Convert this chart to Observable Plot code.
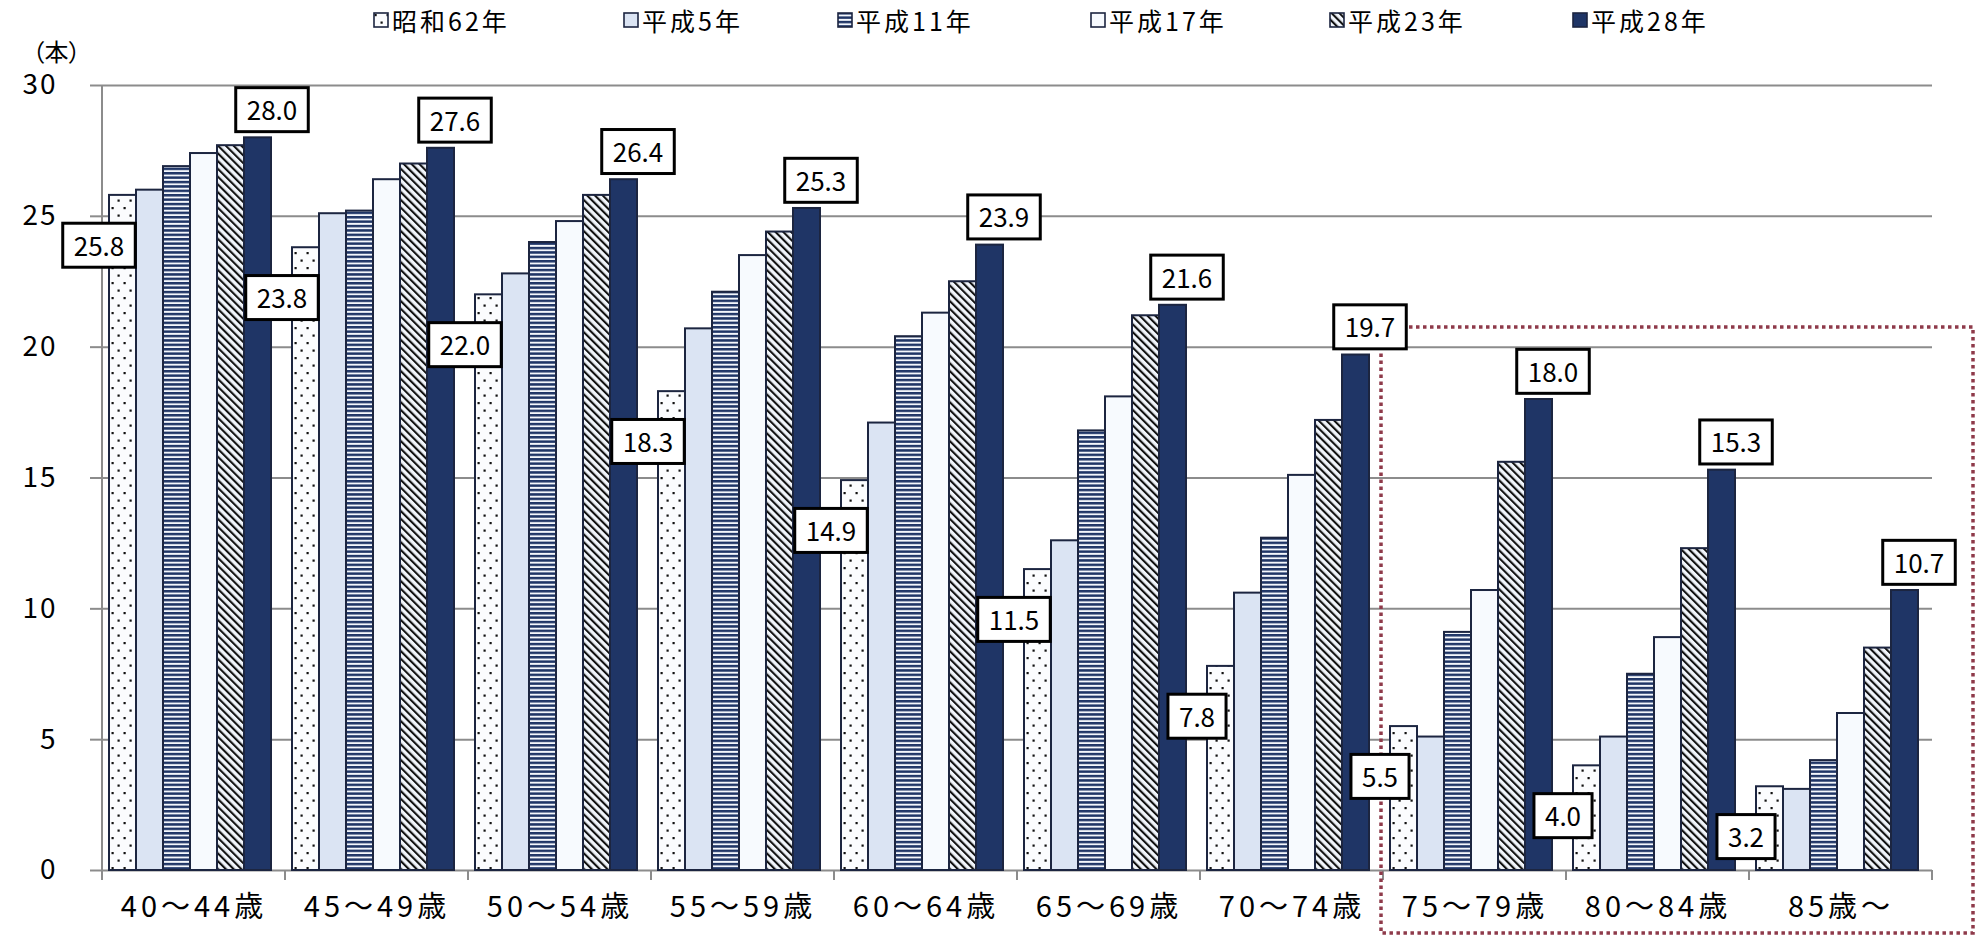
<!DOCTYPE html>
<html>
<head>
<meta charset="utf-8">
<script src="https://cdn.jsdelivr.net/npm/d3@7"></script>
<script src="https://cdn.jsdelivr.net/npm/@observablehq/plot@0.6"></script>
<style>
  body { margin: 0; background: #fff; font-family: "Noto Sans CJK JP", sans-serif; }
  #legend { position: relative; width: 1979px; height: 40px; }
  .item { position: absolute; top: 0; height: 40px; display: flex; align-items: center;
          font-size: 25px; letter-spacing: 3px; color: #000; white-space: nowrap; }
  .item svg { margin-right: 3px; }
  g[aria-label="fx-axis tick label"] text { letter-spacing: 4px; }
  g[aria-label="y-axis tick label"] text { letter-spacing: 2px; }
  g[aria-label="y-axis label"] text { font-size: 24px; font-feature-settings: "palt"; }
</style>
</head>
<body>
<svg width="0" height="0" style="position:absolute">
  <defs>
    <pattern id="p-s62" patternUnits="userSpaceOnUse" width="12" height="15">
      <rect width="12" height="15" fill="#fbfcfe"/>
      <rect x="1.5" y="2" width="2.2" height="2.2" fill="#111"/>
      <rect x="7.5" y="9.5" width="2.2" height="2.2" fill="#111"/>
    </pattern>
    <pattern id="p-h5" patternUnits="userSpaceOnUse" width="10" height="10">
      <rect width="10" height="10" fill="#dbe4f3"/>
    </pattern>
    <pattern id="p-h11" patternUnits="userSpaceOnUse" width="10" height="4.4">
      <rect width="10" height="4.4" fill="#f4f7fc"/>
      <rect width="10" height="2.5" fill="#1f3566"/>
    </pattern>
    <pattern id="p-h17" patternUnits="userSpaceOnUse" width="10" height="10">
      <rect width="10" height="10" fill="#f7fafe"/>
    </pattern>
    <pattern id="p-h23" patternUnits="userSpaceOnUse" width="5.5" height="5.5" patternTransform="rotate(-45)">
      <rect width="5.5" height="5.5" fill="#f1f5fb"/>
      <rect width="2.1" height="5.5" fill="#111"/>
    </pattern>
    <pattern id="p-h28" patternUnits="userSpaceOnUse" width="10" height="10">
      <rect width="10" height="10" fill="#1f3566"/>
    </pattern>
  </defs>
</svg>
<div id="legend"></div>
<div id="chart"></div>
<script>
// ---- data ----
const groups = ["40～44歳", "45～49歳", "50～54歳", "55～59歳", "60～64歳", "65～69歳", "70～74歳", "75～79歳", "80～84歳", "85歳～"];
const seriesNames = ["昭和62年", "平成5年", "平成11年", "平成17年", "平成23年", "平成28年"];
const s62 = [25.8, 23.8, 22.0, 18.3, 14.9, 11.5, 7.8, 5.5, 4.0, 3.2];
const h5  = [26.0, 25.1, 22.8, 20.7, 17.1, 12.6, 10.6, 5.1, 5.1, 3.1];
const h11 = [26.9, 25.2, 24.0, 22.1, 20.4, 16.8, 12.7, 9.1, 7.5, 4.2];
const h17 = [27.4, 26.4, 24.8, 23.5, 21.3, 18.1, 15.1, 10.7, 8.9, 6.0];
const h23 = [27.7, 27.0, 25.8, 24.4, 22.5, 21.2, 17.2, 15.6, 12.3, 8.5];
const h28 = [28.0, 27.6, 26.4, 25.3, 23.9, 21.6, 19.7, 18.0, 15.3, 10.7];
const yTicks = [0, 5, 10, 15, 20, 25, 30];
const unitLabel = "（本）";

// ---- styles ----
const seriesFills = ["url(#p-s62)", "url(#p-h5)", "url(#p-h11)", "url(#p-h17)", "url(#p-h23)", "url(#p-h28)"];
const legendLeft = [373, 623, 837, 1090, 1329, 1572];
const highlight = {from: "75～79歳", top: 20.75};

const seriesValues = [s62, h5, h11, h17, h23, h28];
const table = groups.flatMap((g, i) => seriesNames.map((s, j) => ({group: g, series: s, value: seriesValues[j][i]})));
const firstLabels = table.filter(d => d.series === seriesNames[0]);
const lastLabels = table.filter(d => d.series === seriesNames[seriesNames.length - 1]);

// ---- legend ----
const legend = d3.select("#legend");
seriesNames.forEach((s, i) => {
  const it = legend.append("div").attr("class", "item").style("left", legendLeft[i] + "px");
  const sw = it.append("svg").attr("width", 16).attr("height", 16);
  sw.append("rect").attr("x", 1).attr("y", 1).attr("width", 14).attr("height", 14)
    .attr("fill", seriesFills[i]).attr("stroke", "#1c2540").attr("stroke-width", 1.6);
  it.append("span").text(s);
});

// ---- chart ----
const W = 1979, H = 895;
const plot = Plot.plot({
  width: W, height: H,
  marginTop: 45, marginBottom: 65, marginLeft: 100, marginRight: 45,
  style: {fontFamily: '"Noto Sans CJK JP", sans-serif', background: "white", overflow: "visible"},
  fx: {domain: groups, paddingInner: 0, paddingOuter: 0, label: null},
  x: {domain: seriesNames, paddingInner: 0, paddingOuter: 0.3, align: 0.35, axis: null},
  y: {domain: [0, 30], label: null},
  color: {domain: seriesNames, range: seriesFills},
  marks: [
    Plot.gridY({ticks: yTicks, stroke: "#8c8c8c", strokeOpacity: 1, strokeWidth: 2}),
    Plot.barY(table, {fx: "group", x: "series", y: "value", fill: "series", stroke: "#1c2540", strokeWidth: 2}),
    Plot.axisY({ticks: yTicks, tickSize: 12, tickPadding: 33, stroke: "#8c8c8c", strokeWidth: 2,
      fill: "#000", fontSize: 28, label: unitLabel, labelAnchor: "top", labelOffset: 70, labelArrow: "none"}),
    Plot.axisFx({anchor: "bottom", tickSize: 0, tickPadding: 26, fontSize: 29, fill: "#000", label: null}),
    Plot.text(firstLabels, {fx: "group", x: "series", y: "value", text: d => d.value.toFixed(1),
      dx: -24, dy: 52, fontSize: 26, fill: "#000"}),
    Plot.text(lastLabels, {fx: "group", x: "series", y: "value", text: d => d.value.toFixed(1),
      dx: 14, dy: -26, fontSize: 26, fill: "#000"})
  ]
});
document.getElementById("chart").append(plot);

// ---- annotations derived from the scales ----
const svg = d3.select(plot);
const fx = plot.scale("fx"), y = plot.scale("y");
const y0 = y.apply(0);

// boxes behind value labels
const boxH = 44;
svg.selectAll('g[aria-label="text"] text').each(function () {
  const b = this.getBBox();
  const cy = b.y + b.height / 2 + 1;
  const r = document.createElementNS("http://www.w3.org/2000/svg", "rect");
  r.setAttribute("x", b.x - 11);
  r.setAttribute("y", cy - boxH / 2);
  r.setAttribute("width", b.width + 22);
  r.setAttribute("height", boxH);
  r.setAttribute("fill", "white");
  r.setAttribute("stroke", "#000");
  r.setAttribute("stroke-width", 3);
  const t = this.getAttribute("transform");
  if (t) r.setAttribute("transform", t);
  this.parentNode.insertBefore(r, this);
});

// annotation layer placed below the value labels
const firstText = svg.select('g[aria-label="text"]').node();
const annNode = document.createElementNS("http://www.w3.org/2000/svg", "g");
firstText.parentNode.insertBefore(annNode, firstText);
const ann = d3.select(annNode);
// y-axis line
ann.append("line").attr("x1", fx.apply(groups[0])).attr("x2", fx.apply(groups[0]))
  .attr("y1", y.apply(30)).attr("y2", y0 + 10).attr("stroke", "#8c8c8c").attr("stroke-width", 2);
// group boundary ticks
const bounds = groups.map(g => fx.apply(g)).concat([fx.apply(groups[groups.length - 1]) + fx.bandwidth]);
bounds.forEach(x => ann.append("line").attr("x1", x).attr("x2", x).attr("y1", y0).attr("y2", y0 + 10)
  .attr("stroke", "#8c8c8c").attr("stroke-width", 2));
// highlight frame
const hx = fx.apply(highlight.from) - 2, hy = y.apply(highlight.top);
ann.append("rect").attr("x", hx).attr("y", hy).attr("width", W - 6 - hx).attr("height", H - 2 - hy)
  .attr("fill", "none").attr("stroke", "#8e3a4a").attr("stroke-width", 3.5).attr("stroke-dasharray", "3.5 3.5");
</script>
</body>
</html>
